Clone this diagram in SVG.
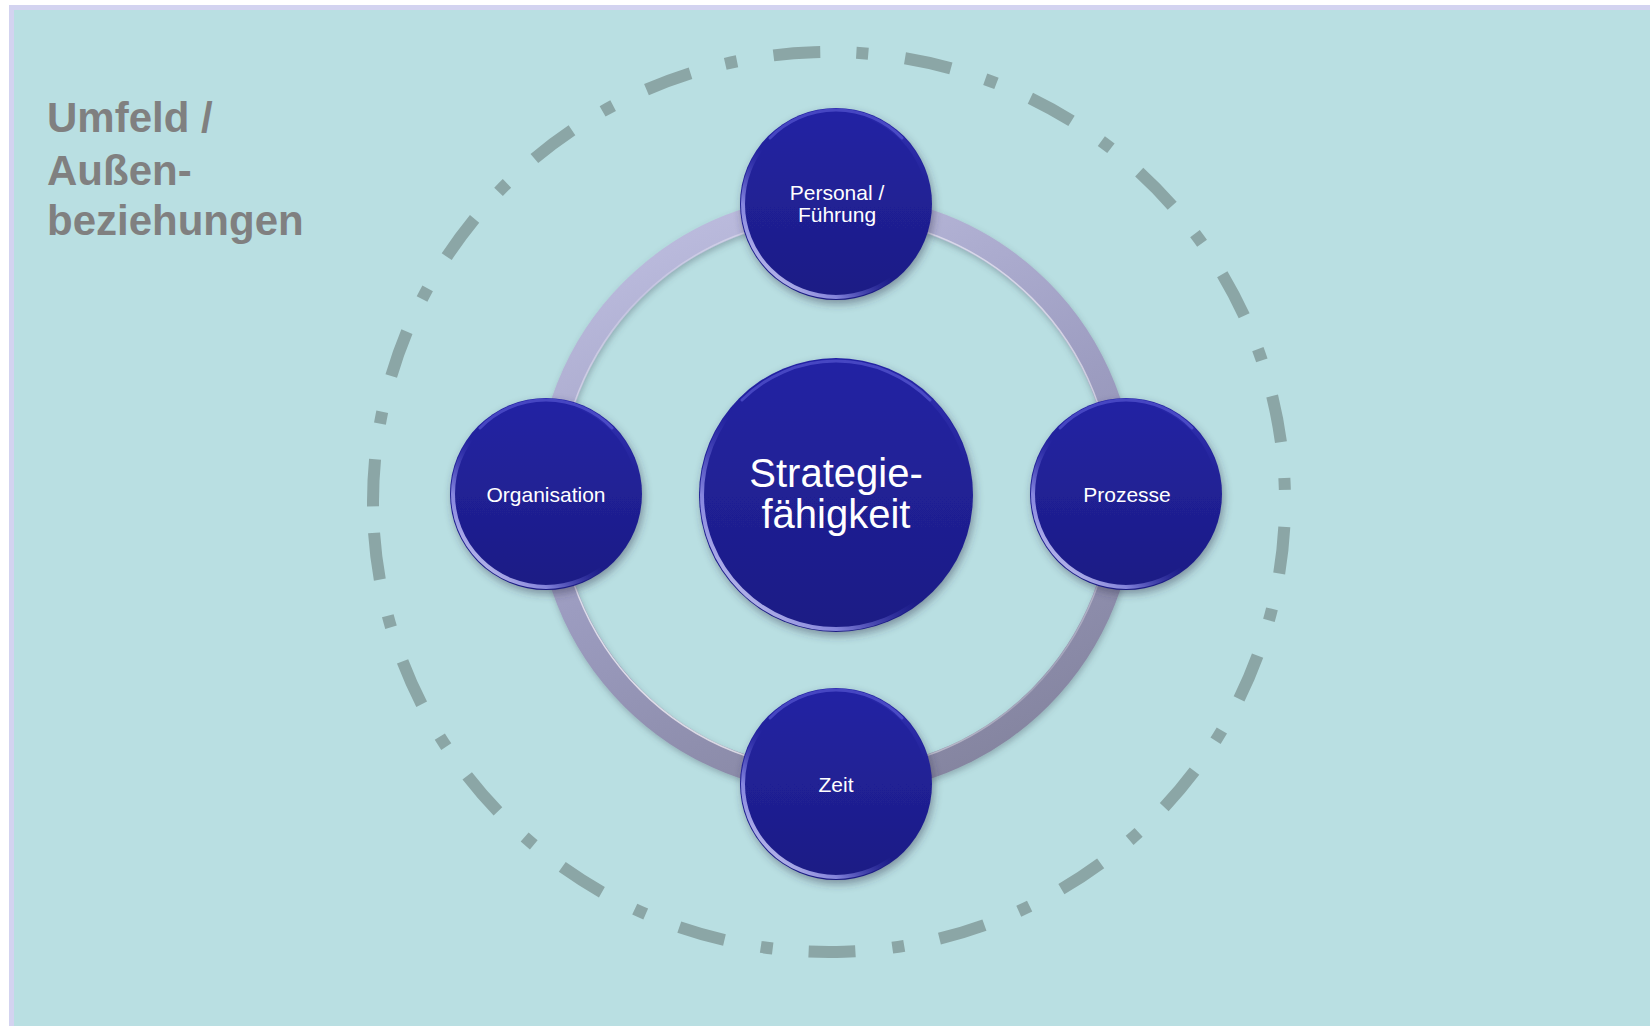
<svg xmlns="http://www.w3.org/2000/svg" width="1650" height="1026" viewBox="0 0 1650 1026">
<style>
.lbl{font-family:"Liberation Sans",Arial,sans-serif;fill:#ffffff;text-anchor:middle}
.small{font-size:21px}
.big{font-size:40px}
.umfeld{font-family:"Liberation Sans",Arial,sans-serif;font-weight:bold;font-size:42px;fill:#808080}
.ball{fill:url(#ballFill);filter:url(#shadow)}
.rim{fill:none;stroke:url(#rimGrad);stroke-width:4}
.glow{fill:none;stroke:#6464dc;stroke-opacity:.55;stroke-width:3;stroke-linecap:round}
</style>
<defs>
<linearGradient id="ballFill" x1="0" y1="0" x2="0" y2="1">
<stop offset="0" stop-color="#2424a4"/>
<stop offset="1" stop-color="#1c1c84"/>
</linearGradient>
<linearGradient id="rimGrad" x1="0" y1="1" x2="1" y2="0">
<stop offset="0" stop-color="#ffffff" stop-opacity=".95"/>
<stop offset=".25" stop-color="#b0b0ff" stop-opacity=".7"/>
<stop offset=".45" stop-color="#4a4ad0" stop-opacity="0"/>
<stop offset=".8" stop-color="#4a4ad0" stop-opacity="0"/>
<stop offset="1" stop-color="#9a9aff" stop-opacity=".6"/>
</linearGradient>
<linearGradient id="ringGrad" gradientUnits="userSpaceOnUse" x1="700" y1="204" x2="960" y2="784">
<stop offset="0" stop-color="#bcbcde"/>
<stop offset=".5" stop-color="#9c9cc0"/>
<stop offset="1" stop-color="#84849f"/>
</linearGradient>
<linearGradient id="ringHi" gradientUnits="userSpaceOnUse" x1="560" y1="780" x2="1120" y2="200">
<stop offset="0" stop-color="#ffffff" stop-opacity=".9"/>
<stop offset=".5" stop-color="#ffffff" stop-opacity=".2"/>
<stop offset="1" stop-color="#ffffff" stop-opacity=".7"/>
</linearGradient>
<filter id="shadow" x="-20%" y="-20%" width="140%" height="140%">
<feDropShadow dx="2" dy="4" stdDeviation="4" flood-color="#303050" flood-opacity=".45"/>
</filter>
<filter id="ringShadow" x="-10%" y="-10%" width="120%" height="120%">
<feDropShadow dx="1" dy="3" stdDeviation="3" flood-color="#405060" flood-opacity=".35"/>
</filter>
</defs>

<g id="background">
<rect x="0" y="0" width="1650" height="1026" fill="#ffffff"/>
<rect x="11.5" y="7.5" width="1660" height="1040" fill="#b9dfe2" stroke="#d3d3f0" stroke-width="5"/>
</g>

<g id="umfeld">
<path d="M373.25,517 A456,450 0 0 0 1284.75,487 A456,450 0 0 0 373.25,517" fill="none" stroke="#8ba6a6" stroke-width="12" stroke-dasharray="47 37 12 36" stroke-dashoffset="116"/>
<text class="umfeld" x="47" y="132">Umfeld /</text>
<text class="umfeld" x="47" y="185">Außen-</text>
<text class="umfeld" x="47" y="235">beziehungen</text>
</g>

<g id="connectors">
<circle cx="836" cy="494" r="288" fill="none" stroke="url(#ringGrad)" stroke-width="24" filter="url(#ringShadow)"/>
<circle cx="836" cy="494" r="277" fill="none" stroke="url(#ringHi)" stroke-width="1.5"/>
</g>

<g id="node-personal">
<circle class="ball" cx="836" cy="204" r="96"/>
<circle class="rim" cx="836" cy="204" r="93"/>
<path class="glow" d="M770,138 A92,92 0 0 1 902,138"/>
<text class="lbl small" x="837" y="200">Personal /</text>
<text class="lbl small" x="837" y="222">Führung</text>
</g>

<g id="node-organisation">
<circle class="ball" cx="546" cy="494" r="96"/>
<circle class="rim" cx="546" cy="494" r="93"/>
<path class="glow" d="M480,428 A92,92 0 0 1 612,428"/>
<text class="lbl small" x="546" y="502">Organisation</text>
</g>

<g id="node-prozesse">
<circle class="ball" cx="1126" cy="494" r="96"/>
<circle class="rim" cx="1126" cy="494" r="93"/>
<path class="glow" d="M1060,428 A92,92 0 0 1 1192,428"/>
<text class="lbl small" x="1127" y="502">Prozesse</text>
</g>

<g id="node-zeit">
<circle class="ball" cx="836" cy="784" r="96"/>
<circle class="rim" cx="836" cy="784" r="93"/>
<path class="glow" d="M770,718 A92,92 0 0 1 902,718"/>
<text class="lbl small" x="836" y="792">Zeit</text>
</g>

<g id="node-center">
<circle class="ball" cx="836" cy="495" r="137"/>
<circle class="rim" cx="836" cy="495" r="134"/>
<path class="glow" d="M742,400 A133,133 0 0 1 930,400"/>
<text class="lbl big" x="836" y="487">Strategie-</text>
<text class="lbl big" x="836" y="528">fähigkeit</text>
</g>
</svg>
